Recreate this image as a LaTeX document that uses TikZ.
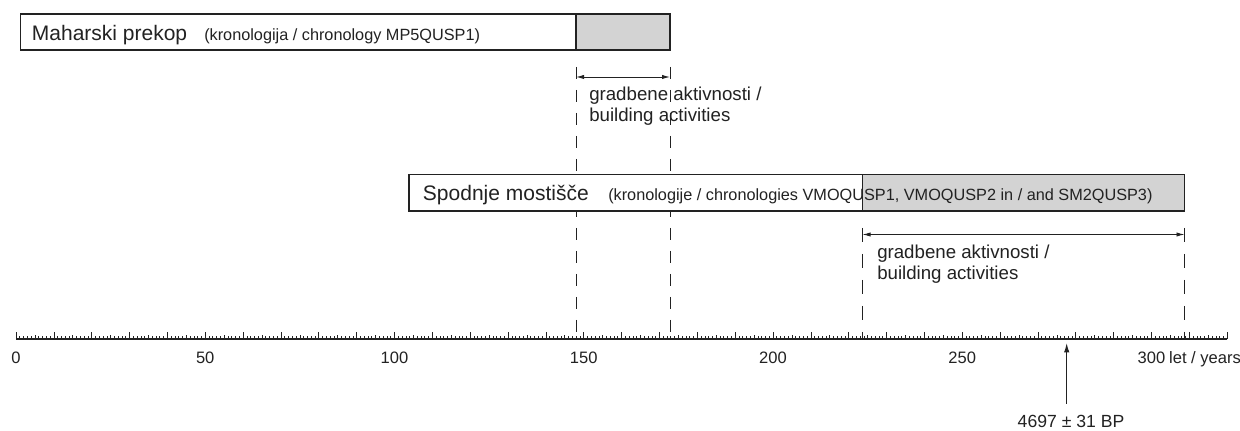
\documentclass[tikz,border=0pt]{standalone}
\usepackage{fontspec}
\setmainfont{Liberation Sans}
\usetikzlibrary{arrows.meta}
\definecolor{ink}{HTML}{222222}
\definecolor{fillg}{HTML}{D3D3D3}
\begin{document}
\begin{tikzpicture}[x=0.75pt,y=-0.75pt,
  box/.style={draw=ink,fill=white,line width=0.9pt,inner sep=0pt,outer sep=0pt},
  gbox/.style={draw=ink,fill=fillg,line width=0.9pt,inner sep=0pt,outer sep=0pt},
  bigtxt/.style={inner sep=0pt,text=ink,font=\fontsize{15.75}{18}\selectfont},
  smalltxt/.style={inner sep=0pt,text=ink,font=\fontsize{12.2}{14}\selectfont},
  acts/.style={inner sep=0pt,text=ink,align=left,font=\fontsize{14}{15.75}\selectfont},
  axlab/.style={inner sep=0pt,text=ink,font=\fontsize{12.4}{15}\selectfont},
  bplab/.style={inner sep=0pt,text=ink,font=\fontsize{13.2}{15}\selectfont},
  dline/.style={draw=ink,line width=0.6pt,dash pattern=on 9pt off 8.25pt},
  dline2/.style={draw=ink,line width=0.6pt,dash pattern=on 10.5pt off 9pt},
  span/.style={draw=ink,line width=0.7pt,{Latex[length=6pt,width=3.2pt]}-{Latex[length=6pt,width=3.2pt]}},
  pointer/.style={draw=ink,line width=0.8pt,-{Latex[length=7pt,width=4pt]}},
  tickln/.style={draw=ink,line width=0.5pt},
  axisln/.style={draw=ink,line width=0.9pt}]
\fill[white] (0,0) rectangle (1240,431);
\useasboundingbox (0,0) rectangle (1240,431);

% key coordinates
\coordinate (ax0) at (16,339);
\coordinate (axE) at (1227,339);
\coordinate (t1) at (576,67);
\coordinate (t2) at (670,67);
\coordinate (ta1) at (576,77);
\coordinate (ta2) at (670,77);
\coordinate (b1) at (862.5,228);
\coordinate (b2) at (1184.5,228);
\coordinate (ba1) at (862.5,234.5);
\coordinate (ba2) at (1184.5,234.5);

% dashed guide lines
\draw[dline] (t1) -- (t1 |- ax0);
\draw[dline] (t2) -- (t2 |- ax0);
\draw[dline2] (b1) -- (b1 |- ax0);
\draw[dline2] (b2) -- (b2 |- ax0);

% top box
\node[box,minimum width=487.1pt,minimum height=27pt,anchor=north west] (mp) at (20.5,14) {};
\node[gbox,minimum width=70.5pt,minimum height=27pt,anchor=north east] (mpg) at (mp.north east) {};
\node[bigtxt,anchor=base west] (mpt) at (31.7,41) {Maharski prekop};
\node[smalltxt,anchor=base west] (mps) at (204,41) {(kronologija / chronology MP5QUSP1)};

% lower box
\node[box,minimum width=581.6pt,minimum height=27.4pt,anchor=north west] (sm) at (409,174.5) {};
\node[gbox,minimum width=241.5pt,minimum height=27.4pt,anchor=north east] (smg) at (sm.north east) {};
\node[bigtxt,anchor=base west] (smt) at (422.7,201) {Spodnje mostišče};
\node[smalltxt,anchor=base west] (sms) at (608,201) {(kronologije / chronologies VMOQUSP1, VMOQUSP2 in / and SM2QUSP3)};

% spans
\draw[span] (ta1) -- (ta2);
\draw[span] (ba1) -- (ba2);
\node[acts,anchor=base west] (ga1) at (589,122) {gradbene aktivnosti /\\building activities};
\node[acts,anchor=base west] (ga2) at (877,280) {gradbene aktivnosti /\\building activities};

% axis
\draw[axisln] (ax0) -- (axE);
\foreach \i in {0,...,320}{
  \pgfmathsetmacro\h{ifthenelse(mod(\i,10)==0,6.5,ifthenelse(mod(\i,5)==0,4.5,3))}
  \draw[tickln] ({16+3.785*\i},339) -- ++(0,-\h);
}
\foreach \v in {0,50,100,150,200,250,300}{
  \node[axlab,anchor=base] (l\v) at ({16+3.785*\v},363.5) {\v};
}
\node[axlab,anchor=base west] (ly) at ([xshift=2.5pt]l300.base east) {let / years};

% dating arrow
\node[bplab,anchor=base] (bp) at (1071,427.5) {4697 ± 31 BP};
\coordinate (bpx) at (1066.7,343);
\draw[pointer] ([yshift=8.5pt]bp.north -| bpx) -- (bpx);
\end{tikzpicture}
\end{document}
